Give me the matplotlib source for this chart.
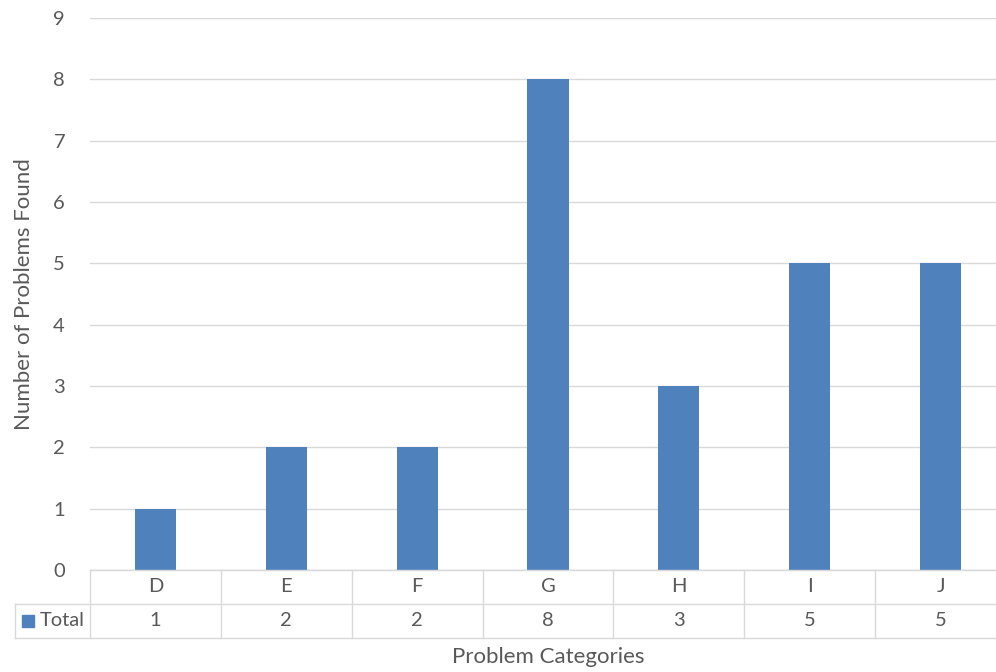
import matplotlib.pyplot as plt
from matplotlib.transforms import blended_transform_factory

categories = ["D", "E", "F", "G", "H", "I", "J"]
totals = [1, 2, 2, 8, 3, 5, 5]
series_name = "Total"

BAR = "#4f81bd"
GRID = "#d9d9d9"
TXT = "#595959"

plt.rcParams["font.family"] = ["Lato", "DejaVu Sans"]

W, H = 996, 672
fig = plt.figure(figsize=(W / 100, H / 100), dpi=100)
# plot area in pixels: x 90..1006, y 18..570
ax = fig.add_axes([90 / W, 1 - 570 / H, (1006 - 90) / W, (570 - 18) / H])

x = range(len(categories))
ax.bar(x, totals, width=0.315, color=BAR, zorder=3)
ax.set_xlim(-0.5, len(categories) - 0.5)
ax.set_ylim(0, 9)
ax.set_yticks(range(10))
ax.yaxis.grid(True, color=GRID, linewidth=1)
ax.set_axisbelow(True)
for s in ["top", "right", "left"]:
    ax.spines[s].set_visible(False)
ax.spines["bottom"].set_color(GRID)
ax.tick_params(axis="y", length=0, pad=18, labelsize=14.5, labelcolor=TXT)
ax.set_xticks([])

ax.set_ylabel("Number of Problems Found", fontsize=16, color=TXT, labelpad=14)


def fy(ypix):
    return 1 - ypix / H


def fx(xpix):
    return xpix / W


# data table below the axis
line_kw = dict(color=GRID, linewidth=1, transform=fig.transFigure, clip_on=False)
fig.add_artist(plt.Line2D([fx(90), 1], [fy(570), fy(570)], **line_kw))
fig.add_artist(plt.Line2D([fx(15), 1], [fy(604), fy(604)], **line_kw))
fig.add_artist(plt.Line2D([fx(15), 1], [fy(638), fy(638)], **line_kw))
fig.add_artist(plt.Line2D([fx(15), fx(15)], [fy(604), fy(638)], **line_kw))

tr = blended_transform_factory(ax.transData, fig.transFigure)
for i in range(len(categories) + 1):
    ax.plot([i - 0.5, i - 0.5], [fy(570), fy(638)], color=GRID, linewidth=1,
            transform=tr, clip_on=False)

for i, (c, v) in enumerate(zip(categories, totals)):
    ax.text(i, fy(587), c, transform=tr, ha="center", va="center",
            fontsize=14.5, color=TXT)
    ax.text(i, fy(621), str(v), transform=tr, ha="center", va="center",
            fontsize=14.5, color=TXT)

# legend key in the table
fig.add_artist(plt.Rectangle((fx(22), fy(627)), 12 / W, 12 / H,
                             transform=fig.transFigure, color=BAR))
fig.text(fx(40), fy(621), series_name, ha="left", va="center",
         fontsize=14.5, color=TXT)

fig.text(fx(548), fy(657), "Problem Categories", ha="center", va="center",
         fontsize=16, color=TXT)

fig.savefig("out.png", dpi=100)
